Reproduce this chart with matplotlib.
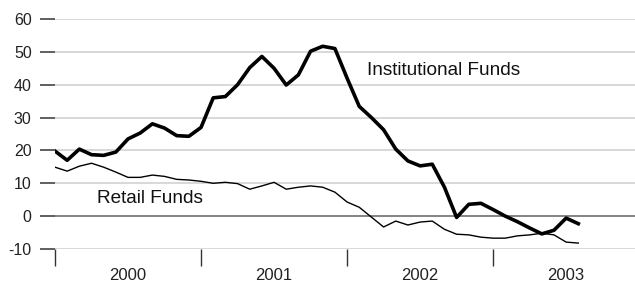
import numpy as np
import matplotlib
matplotlib.use("Agg")
import matplotlib.pyplot as plt

plt.rcParams['font.family'] = ['Liberation Sans', 'DejaVu Sans']

# monthly data, Jan 2000 .. Aug 2003
years = ['2000', '2001', '2002', '2003']
institutional = [19.8, 17.0, 20.4, 18.7, 18.5, 19.5, 23.5, 25.3, 28.1, 26.8, 24.5, 24.3,
                 27.0, 36.0, 36.4, 40.0, 45.2, 48.6, 45.0, 39.9, 43.0, 50.2, 51.7, 51.0,
                 42.0, 33.4, 30.0, 26.3, 20.4, 16.8, 15.3, 15.8, 8.8, -0.4, 3.6, 3.9,
                 2.0, 0.0, -1.7, -3.6, -5.4, -4.3, -0.6, -2.3]
retail = [14.9, 13.7, 15.2, 16.1, 14.9, 13.4, 11.8, 11.8, 12.5, 12.1, 11.2, 11.0,
          10.6, 10.0, 10.3, 9.9, 8.2, 9.2, 10.3, 8.2, 8.8, 9.2, 8.8, 7.3,
          4.3, 2.7, -0.3, -3.3, -1.5, -2.7, -1.8, -1.5, -4.0, -5.5, -5.7, -6.4,
          -6.7, -6.7, -6.0, -5.7, -5.2, -5.7, -7.9, -8.2]
yticks = [-10, 0, 10, 20, 30, 40, 50, 60]

months = np.arange(len(institutional))

fig = plt.figure(figsize=(6.35, 2.82), dpi=100)
ax = fig.add_axes([55 / 635, 33 / 282, 580 / 635, 230 / 282])

# grid lines, zero line darker
for v in yticks:
    if v == 0:
        ax.axhline(v, color='#6e6e6e', lw=1.2, zorder=1)
    else:
        ax.axhline(v, color='#d2d2d2', lw=1.2, zorder=1)

ax.plot(months, retail, color='black', lw=1.0, zorder=3)
ax.plot(months, institutional, color='black', lw=2.6, zorder=4)

ax.text(25.6, 44.4, 'Institutional Funds', fontsize=13.7, va='center', ha='left',
        color='#111111')
ax.text(3.45, 5.5, 'Retail Funds', fontsize=13.7, va='center', ha='left',
        color='#111111')

ax.set_xlim(0, 580 / 12.17)
ax.set_ylim(-10, 60)

for s in ax.spines.values():
    s.set_visible(False)

ax.set_yticks(yticks)
ax.set_yticklabels([str(v) for v in yticks])
ax.tick_params(axis='y', direction='out', length=10.8, width=1.2, color='#444444',
               pad=6, labelsize=11.5, labelcolor='#222222')

# year separators as minor ticks, year labels at mid year
ax.set_xticks([0, 12, 24, 36], minor=True)
ax.set_xticks([6, 18, 30, 42])
ax.set_xticklabels(years)
ax.tick_params(axis='x', which='minor', direction='out', length=12.5, width=1.0,
               color='#333333')
ax.tick_params(axis='x', which='major', length=0, pad=13.5, labelsize=12,
               labelcolor='#222222')

fig.savefig('out.png', dpi=100)
